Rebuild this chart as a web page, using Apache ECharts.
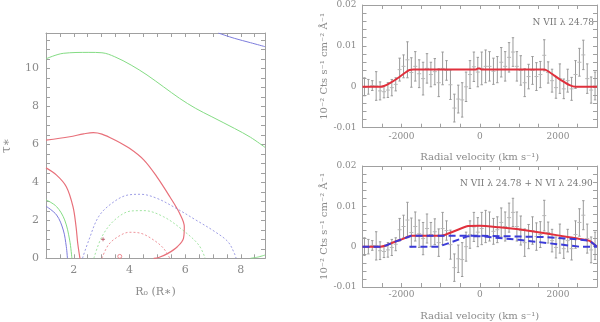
<!DOCTYPE html>
<html>
<head>
<meta charset="utf-8">
<script src="https://cdn.jsdelivr.net/npm/echarts@6/dist/echarts.min.js"></script>
<style>
  html, body { margin: 0; padding: 0; background: #fff; }
  #chart { width: 600px; height: 322px; }
</style>
</head>
<body>
<div id="chart"></div>
<script>
// ---- left panel: tau* vs R0 contours ----
const blueTop = [[7.19, 11.86], [7.77, 11.58], [8.35, 11.35], [8.87, 11.14]];
const greenTop = [[1.0, 10.5], [1.62, 10.79], [2.54, 10.84], [3.01, 10.82], [3.47, 10.61], [4.06, 10.17],
  [4.63, 9.65], [5.22, 9.03], [5.80, 8.42], [6.38, 7.89], [6.96, 7.45], [7.77, 6.84], [8.35, 6.37], [8.87, 5.84]];
const redLoop = [[1.0, 6.22], [1.85, 6.40], [2.35, 6.55], [2.70, 6.62], [3.01, 6.54], [3.47, 6.23], [4.0, 5.79],
  [4.52, 5.17], [4.98, 4.30], [5.45, 3.24], [5.80, 2.37], [5.97, 1.66], [5.94, 1.05], [5.72, 0.61],
  [5.38, 0.26], [5.05, 0.04], [4.87, 0]];
const redLeft = [[1.0, 4.76], [1.38, 4.38], [1.73, 3.77], [1.97, 2.72], [2.08, 1.66], [2.14, 0.79], [2.22, 0]];
const greenLeft = [[1.0, 3.08], [1.38, 2.72], [1.67, 2.02], [1.85, 0.96], [1.93, 0]];
const blueLeft = [[1.0, 2.74], [1.38, 2.28], [1.62, 1.49], [1.73, 0.61], [1.77, 0]];
const blueArch = [[2.31, 0], [2.54, 0.96], [2.89, 2.19], [3.36, 2.89], [3.94, 3.33], [4.40, 3.37], [4.98, 3.16],
  [5.68, 2.63], [6.38, 2.02], [7.07, 1.40], [7.54, 0.87], [7.77, 0.26], [7.83, 0]];
const greenArch = [[2.72, 0], [3.01, 1.14], [3.47, 2.02], [4.06, 2.49], [4.52, 2.51], [5.22, 2.19], [5.91, 1.49],
  [6.49, 0.70], [6.72, 0]];
const redArch = [[3.01, 0], [3.24, 0.70], [3.59, 1.14], [4.0, 1.37], [4.40, 1.32], [4.87, 0.96], [5.22, 0.53], [5.45, 0]];
const greenCorner = [[8.35, 0], [8.6, 0.06], [8.87, 0.17]];
const bestFit = [[3.05, 1.0]];
const redBlob = [[3.65, 0.1]];
const rTicks = [2, 4, 6, 8];
const tauTicks = [0, 2, 4, 6, 8, 10];

// ---- right panels: spectrum ----
const velocity = [-2950, -2850, -2750, -2650, -2550, -2450, -2350, -2250, -2150, -2050,
  -1950, -1850, -1750, -1650, -1550, -1450, -1350, -1250, -1150, -1050,
  -950, -850, -750, -650, -550, -450, -350, -250, -150, -50,
  50, 150, 250, 350, 450, 550, 650, 750, 850, 950,
  1050, 1150, 1250, 1350, 1450, 1550, 1650, 1750, 1850, 1950,
  2050, 2150, 2250, 2350, 2450, 2550, 2650, 2750, 2850, 2950];
const flux = [0.0000, 0.0000, 0.0003, 0.0002, -0.0010, -0.0012, -0.0008, -0.0002, 0.0006, 0.0042,
  0.0050, 0.0066, 0.0035, 0.0050, 0.0032, 0.0020, 0.0045, 0.0030, 0.0037, 0.0010,
  0.0045, 0.0040, 0.0005, -0.0052, -0.0030, -0.0032, 0.0000, 0.0030, 0.0049, 0.0036,
  0.0045, 0.0050, 0.0050, 0.0038, 0.0042, 0.0060, 0.0050, 0.0072, 0.0085, 0.0050,
  0.0040, 0.0010, 0.0025, 0.0040, 0.0025, 0.0030, 0.0077, 0.0035, 0.0015, -0.0002,
  0.0020, -0.0005, 0.0015, -0.0005, 0.0030, 0.0060, 0.0078, 0.0020, -0.0008, 0.0002];
const fluxErr = [0.0022, 0.0018, 0.0012, 0.0035, 0.0022, 0.0015, 0.0018, 0.0020, 0.0016, 0.0028,
  0.0028, 0.0044, 0.0036, 0.0036, 0.0034, 0.0040, 0.0036, 0.0030, 0.0032, 0.0034,
  0.0040, 0.0024, 0.0036, 0.0034, 0.0034, 0.0042, 0.0036, 0.0034, 0.0036, 0.0036,
  0.0040, 0.0040, 0.0036, 0.0032, 0.0032, 0.0036, 0.0036, 0.0036, 0.0035, 0.0036,
  0.0036, 0.0034, 0.0030, 0.0034, 0.0034, 0.0032, 0.0038, 0.0026, 0.0028, 0.0026,
  0.0036, 0.0024, 0.0028, 0.0028, 0.0034, 0.0034, 0.0036, 0.0036, 0.0032, 0.0034];

const modelTop = [[-3000, 0], [-2550, 0], [-2450, 0.0002], [-2300, 0.0009], [-2100, 0.0021], [-1900, 0.0035],
  [-1800, 0.0041], [-1700, 0.0042], [-100, 0.0042], [-50, 0.0045], [0, 0.0045], [50, 0.0042],
  [1650, 0.0042], [1750, 0.0038], [1900, 0.0028], [2100, 0.0015], [2300, 0.0004], [2450, 0], [3000, 0]];
const modelSum = [[-3000, 0], [-2550, 0], [-2400, 0.0003], [-2200, 0.0011], [-2000, 0.0018], [-1750, 0.0027],
  [-1000, 0.0027], [-900, 0.0029], [-300, 0.0051], [0, 0.0052], [500, 0.0048], [1000, 0.0043],
  [1500, 0.0036], [2000, 0.0028], [2500, 0.0020], [2800, 0.0015], [2900, 0.0008], [3000, 0]];
const modelN7 = [[-3000, 0], [-2550, 0], [-2400, 0.0003], [-2200, 0.0011], [-2000, 0.0018], [-1750, 0.0027],
  [0, 0.0027], [1600, 0.0024], [2400, 0.0019], [2800, 0.0015], [2900, 0.0008], [3000, 0]];
const modelN6 = [[-1800, 0], [-1050, 0], [-300, 0.0026], [0, 0.0026], [1000, 0.0017], [2000, 0.0006],
  [2550, 0], [3000, 0]];

const font = "DejaVu Serif";
const textColor = "#8a8a8a";
const frameColor = "#a0a0a0";
const red = "#e8707a";
const green = "#84dc84";
const blue = "#7c7cdc";

function axisBase(min, max, interval, extra) {
  return Object.assign({
    type: "value",
    min, max, interval,
    splitLine: { show: false },
    axisLine: { show: true, onZero: false, lineStyle: { color: frameColor, width: 1 } },
    axisTick: { show: true, inside: true, length: 4, lineStyle: { color: frameColor } },
    axisLabel: { show: false },
  }, extra);
}

function labelled(fontSize, margin, fmt, values) {
  const label = { show: true, color: textColor, fontFamily: font, fontSize, margin, formatter: fmt, hideOverlap: false };
  if (values) label.customValues = values;
  return label;
}

const plainInt = (v) => String(Math.round(v));
const velFmt = (v) => (Math.round(v) % 2000 === 0 ? String(Math.round(v)) : "");
const fluxFmt = (v) => {
  const k = Math.round(v * 1000);
  if (k % 10 !== 0) return "";
  return k === 0 ? "0" : (k / 1000).toFixed(2);
};

const xAxes = [
  axisBase(1, 8.87, 0.5, { gridIndex: 0, position: "bottom", axisLabel: labelled(11, 6, plainInt, rTicks),
    name: "R\u2080 (R\u2217)", nameLocation: "middle", nameGap: 28,
    nameTextStyle: { color: textColor, fontFamily: font, fontSize: 11 } }),
  axisBase(1, 8.87, 0.5, { gridIndex: 0, position: "top" }),
  axisBase(-3000, 3000, 500, { gridIndex: 1, position: "bottom", axisLabel: labelled(9, 4, velFmt),
    name: "Radial velocity (km s\u207B\u00B9)", nameLocation: "middle", nameGap: 25,
    nameTextStyle: { color: textColor, fontFamily: font, fontSize: 10 } }),
  axisBase(-3000, 3000, 500, { gridIndex: 1, position: "top" }),
  axisBase(-3000, 3000, 500, { gridIndex: 2, position: "bottom", axisLabel: labelled(9, 3, velFmt),
    name: "Radial velocity (km s\u207B\u00B9)", nameLocation: "middle", nameGap: 24,
    nameTextStyle: { color: textColor, fontFamily: font, fontSize: 10 } }),
  axisBase(-3000, 3000, 500, { gridIndex: 2, position: "top" }),
];

const fluxName = "10\u207B\u00B2 Cts s\u207B\u00B9 cm\u207B\u00B2 \u00C5\u207B\u00B9";
const yAxes = [
  axisBase(0, 11.86, 0.5, { gridIndex: 0, position: "left", axisLabel: labelled(11, 7, plainInt, tauTicks),
    name: "\u03C4\u2217", nameLocation: "middle", nameGap: 33, nameRotate: 90,
    nameTextStyle: { color: textColor, fontFamily: font, fontSize: 12 } }),
  axisBase(0, 11.86, 0.5, { gridIndex: 0, position: "right" }),
  axisBase(-0.01, 0.02, 0.002, { gridIndex: 1, position: "left", axisLabel: labelled(9, 6, fluxFmt),
    name: fluxName, nameLocation: "middle", nameGap: 30,
    nameTextStyle: { color: textColor, fontFamily: font, fontSize: 10 } }),
  axisBase(-0.01, 0.02, 0.002, { gridIndex: 1, position: "right" }),
  axisBase(-0.01, 0.02, 0.002, { gridIndex: 2, position: "left", axisLabel: labelled(9, 6, fluxFmt),
    name: fluxName, nameLocation: "middle", nameGap: 30,
    nameTextStyle: { color: textColor, fontFamily: font, fontSize: 10 } }),
  axisBase(-0.01, 0.02, 0.002, { gridIndex: 2, position: "right" }),
];

function contour(data, color, dotted, width) {
  return {
    type: "line", xAxisIndex: 0, yAxisIndex: 0, data, smooth: 0.35, showSymbol: false, silent: true,
    lineStyle: { color, width: width || 1, type: dotted ? [2, 2] : "solid", opacity: dotted ? 0.75 : 1 },
    z: 3,
  };
}

// axis: index of the bottom x / left y axis of the panel (2 = top right, 4 = bottom right)
function modelLine(data, axis, color, dashed) {
  return {
    type: "line", xAxisIndex: axis, yAxisIndex: axis, data, showSymbol: false, silent: true,
    smooth: dashed ? 0 : 0.15,
    lineStyle: { color, width: 2, type: dashed ? [7, 4] : "solid" },
    z: dashed ? 6 : 5,
  };
}

const errRows = velocity.map((v, i) => [v, flux[i], flux[i] - fluxErr[i], flux[i] + fluxErr[i]]);

function errorBars(axis) {
  return {
    type: "custom", xAxisIndex: axis, yAxisIndex: axis, data: errRows, silent: true, z: 2,
    renderItem(params, api) {
      const x = api.value(0);
      const mid = api.coord([x, api.value(1)]);
      const lo = api.coord([x, api.value(2)]);
      const hi = api.coord([x, api.value(3)]);
      const style = { stroke: "#9a9a9a", lineWidth: 1 };
      return {
        type: "group",
        children: [
          { type: "line", shape: { x1: lo[0], y1: lo[1], x2: hi[0], y2: hi[1] }, style },
          { type: "line", shape: { x1: lo[0] - 1.2, y1: lo[1], x2: lo[0] + 1.2, y2: lo[1] }, style },
          { type: "line", shape: { x1: hi[0] - 1.2, y1: hi[1], x2: hi[0] + 1.2, y2: hi[1] }, style },
          { type: "line", shape: { x1: mid[0] - 2, y1: mid[1], x2: mid[0] + 2, y2: mid[1] }, style: { stroke: "#b8b8b8", lineWidth: 1 } },
        ],
      };
    },
  };
}

const option = {
  backgroundColor: "#ffffff",
  animation: false,
  grid: [
    { left: 40, top: 33, width: 225, height: 225.3 },
    { left: 362.5, top: 5, width: 235, height: 122.7 },
    { left: 362.5, top: 166, width: 235, height: 124 },
  ],
  xAxis: xAxes,
  yAxis: yAxes,
  graphic: [
    { type: "text", right: 6, top: 18, style: { text: "N VII \u03BB 24.78", fill: "#777", font: "9px 'DejaVu Serif'" } },
    { type: "text", left: 460, top: 179, style: { text: "N VII \u03BB 24.78 + N VI \u03BB 24.90", fill: "#777", font: "9px 'DejaVu Serif'" } },
  ],
  series: [
    contour(blueTop, blue),
    contour(greenTop, green),
    contour(redLoop, red, false, 1.2),
    contour(redLeft, red, false, 1.2),
    contour(greenLeft, green),
    contour(blueLeft, blue),
    contour(blueArch, blue, true),
    contour(greenArch, green, true),
    contour(redArch, red, true),
    contour(greenCorner, green),
    {
      type: "scatter", xAxisIndex: 0, yAxisIndex: 0, data: bestFit, symbol: "path://M-1,0L1,0M0,-1L0,1",
      symbolSize: 4, itemStyle: { color: "#b04a5a", borderColor: "#b04a5a", borderWidth: 1 }, silent: true, z: 4,
    },
    {
      type: "scatter", xAxisIndex: 0, yAxisIndex: 0, data: redBlob, symbol: "circle",
      symbolSize: 4, itemStyle: { color: "rgba(0,0,0,0)", borderColor: red, borderWidth: 1 }, silent: true, z: 4,
    },
    errorBars(2),
    modelLine(modelTop, 2, "#e0303c"),
    errorBars(4),
    modelLine(modelSum, 4, "#e0303c"),
    modelLine(modelN7, 4, "#3a3ad8", true),
    modelLine(modelN6, 4, "#3a3ad8", true),
  ],
};

const chart = echarts.init(document.getElementById("chart"), null, { renderer: "canvas" });
chart.setOption(option);
</script>
</body>
</html>
